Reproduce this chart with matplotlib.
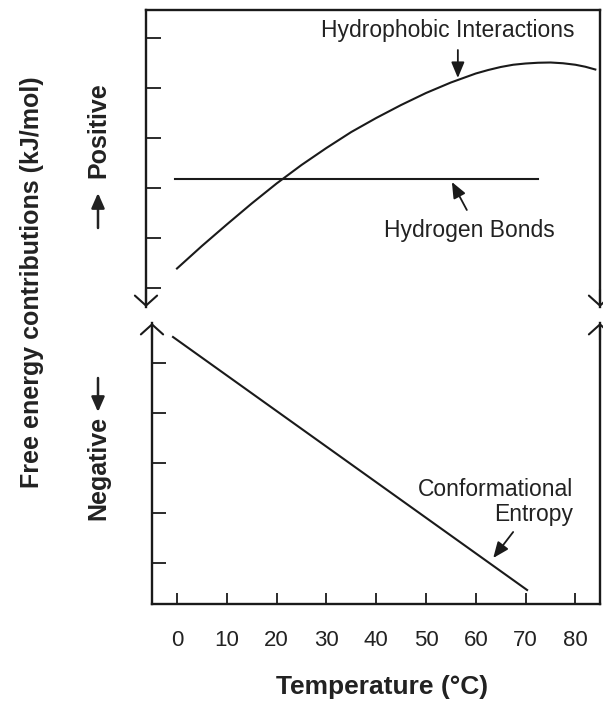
import matplotlib.pyplot as plt

plt.rcParams['font.family'] = ['Liberation Sans', 'DejaVu Sans']

# upper panel: hydrophobic interactions (arbitrary energy units)
hydrophobic_temp = [0, 5, 10, 15, 20, 25, 30, 35, 40, 45, 50, 55, 60, 62.5, 65, 67.5,
                    70, 72.5, 75, 77.5, 80, 82, 84]
hydrophobic_energy = [0.39, 0.84, 1.27, 1.69, 2.09, 2.46, 2.80, 3.12, 3.40, 3.66,
                      3.90, 4.11, 4.29, 4.36, 4.42, 4.465, 4.49, 4.505, 4.51, 4.495,
                      4.465, 4.425, 4.37]

# upper panel: hydrogen bonds (flat)
hbond_temp = [-0.4, 72.5]
hbond_energy = [2.18, 2.18]

# lower panel: conformational entropy
entropy_temp = [-0.8, 70.3]
entropy_energy = [5.52, 0.46]

temp_ticks = [0, 10, 20, 30, 40, 50, 60, 70, 80]
upper_ticks = [0, 1, 2, 3, 4, 5]
lower_ticks = [1, 2, 3, 4, 5]

ink = '#1a1a1a'
W, H = 603, 704


def box(l, t, r, b):
    return [l / W, 1 - b / H, (r - l) / W, (b - t) / H]


fig = plt.figure(figsize=(W / 100, H / 100), dpi=100)
ax_top = fig.add_axes(box(146, 10, 600, 307))
ax_bot = fig.add_axes(box(152, 323, 600, 604))

ax_top.plot(hydrophobic_temp, hydrophobic_energy, color=ink, lw=1.5)
ax_top.plot(hbond_temp, hbond_energy, color=ink, lw=1.5)
ax_bot.plot(entropy_temp, entropy_energy, color=ink, lw=1.5)

ax_top.set_xlim(-6.22, 84.94)
ax_top.set_ylim(-0.38, 5.56)
ax_bot.set_xlim(-5.02, 84.94)
ax_bot.set_ylim(0.18, 5.8)

ax_top.spines['bottom'].set_visible(False)
ax_bot.spines['top'].set_visible(False)
for ax in (ax_top, ax_bot):
    for s in ax.spines.values():
        s.set_linewidth(1.7)
        s.set_color(ink)

ax_top.set_xticks([])
ax_top.set_yticks(upper_ticks)
ax_top.tick_params(axis='y', direction='in', length=11, width=1.3, color=ink, labelleft=False)

ax_bot.set_yticks(lower_ticks)
ax_bot.set_xticks(temp_ticks)
ax_bot.tick_params(axis='y', direction='in', length=10, width=1.3, color=ink, labelleft=False)
ax_bot.tick_params(axis='x', direction='in', length=8, width=1.3, color=ink,
                   labelsize=16, pad=19, labelcolor='#222222')

# broken-axis arrowheads
head = dict(arrowstyle='->,head_length=0.45,head_width=0.5', lw=1.5, color=ink,
            shrinkA=0, shrinkB=0, mutation_scale=16)
for x in (0, 1):
    ax_top.annotate('', xy=(x, 0), xytext=(x, 0.06), xycoords='axes fraction',
                    arrowprops=head, annotation_clip=False)
    ax_bot.annotate('', xy=(x, 1), xytext=(x, 0.94), xycoords='axes fraction',
                    arrowprops=head, annotation_clip=False)

# curve labels
pointer = dict(arrowstyle='-|>,head_length=0.6,head_width=0.25', lw=1.3, color=ink,
               shrinkA=0, shrinkB=0, mutation_scale=16)
ax_top.text(54.4, 5.16, 'Hydrophobic Interactions', fontsize=16.5, color='#222222',
            ha='center', va='center')
ax_top.annotate('', xy=(56.4, 4.2), xytext=(56.4, 4.76), arrowprops=pointer)
ax_top.text(58.8, 1.16, 'Hydrogen Bonds', fontsize=16.5, color='#222222',
            ha='center', va='center')
ax_top.annotate('', xy=(55.2, 2.12), xytext=(58.2, 1.56), arrowprops=pointer)
ax_bot.text(79.5, 2.22, 'Conformational\nEntropy', fontsize=16.5, color='#222222',
            ha='right', va='center', multialignment='right', linespacing=1.15)
ax_bot.annotate('', xy=(63.5, 1.10), xytext=(67.5, 1.62), arrowprops=pointer)

# axis titles
fig.text(32 / W, 1 - 282 / H, 'Free energy contributions (kJ/mol)', rotation=90,
         fontsize=18, fontweight='bold', color='#222222', ha='center', va='center')
fig.text(98 / W, 1 - 130 / H, 'Positive', rotation=90,
         fontsize=18, fontweight='bold', color='#222222', ha='center', va='center')
fig.text(98 / W, 1 - 468 / H, 'Negative', rotation=90,
         fontsize=18, fontweight='bold', color='#222222', ha='center', va='center')
side = dict(arrowstyle='-|>,head_length=0.5,head_width=0.22', lw=1.8, color='#222222',
            shrinkA=0, shrinkB=0, mutation_scale=18)
fig.add_artist(plt.matplotlib.patches.FancyArrowPatch(
    (98 / W, 1 - 228 / H), (98 / W, 1 - 193 / H), transform=fig.transFigure, **side))
fig.add_artist(plt.matplotlib.patches.FancyArrowPatch(
    (98 / W, 1 - 378 / H), (98 / W, 1 - 412 / H), transform=fig.transFigure, **side))
fig.text(382 / W, 1 - 687 / H, 'Temperature (°C)',
         fontsize=19, fontweight='bold', color='#222222', ha='center', va='center')

fig.savefig('out.png', dpi=100)
